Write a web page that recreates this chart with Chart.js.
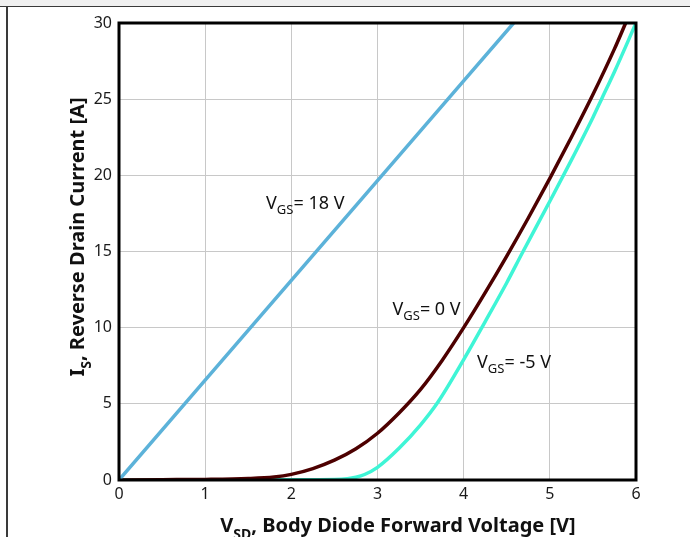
<!DOCTYPE html>
<html>
<head>
<meta charset="utf-8">
<script src="https://cdn.jsdelivr.net/npm/chart.js@4.4.1/dist/chart.umd.min.js"></script>
<style>
  html, body { margin: 0; padding: 0; background: #ffffff; }
  #wrap { position: relative; width: 690px; height: 537px; overflow: hidden; background: #ffffff; }
  #topband { position: absolute; left: 0; top: 0; width: 690px; height: 6px; background: #f0f0f0; border-bottom: 1.5px solid #3a3a3a; }
  #leftline { position: absolute; left: 6px; top: 6px; width: 1.5px; height: 531px; background: #3a3a3a; }
  canvas { position: absolute; left: 0; top: 0; }
</style>
</head>
<body>
<div id="wrap">
  <div id="topband"></div>
  <div id="leftline"></div>
  <canvas id="c" width="690" height="537"></canvas>
</div>
<script>
// ---- Data ----
const vsd18 = [0, 1, 2, 3, 4, 4.58];
const is18  = [0, 6.55, 13.1, 19.65, 26.2, 30];

const vsd0 = [0, 0.5, 1, 1.5, 1.8, 2, 2.25, 2.5, 2.75, 3, 3.25, 3.5, 3.75, 4, 4.25, 4.5, 4.75, 5, 5.25, 5.5, 5.75, 5.88];
const is0  = [0, 0.02, 0.04, 0.1, 0.2, 0.37, 0.75, 1.3, 2.05, 3.07, 4.4, 5.95, 7.85, 10.0, 12.3, 14.7, 17.2, 19.8, 22.5, 25.3, 28.3, 30];

const vsdM5 = [0, 1, 2, 2.5, 2.65, 2.75, 2.85, 3, 3.25, 3.5, 3.7, 4, 4.25, 4.5, 4.68, 5, 5.25, 5.5, 5.6, 5.75, 6];
const isM5  = [0, 0, 0.01, 0.03, 0.08, 0.18, 0.36, 0.83, 2.08, 3.62, 5.1, 7.9, 10.4, 12.95, 14.9, 18.3, 21.0, 23.8, 25, 26.8, 30];

const xTicks = [0, 1, 2, 3, 4, 5, 6];
const yTicks = [0, 5, 10, 15, 20, 25, 30];

const seriesNames = ['18 V', '0 V', '-5 V'];

const toPts = (xs, ys) => xs.map((x, i) => ({ x: x, y: ys[i] }));

// curve labels anchored in data units
const curveLabels = [
  { v: 1.706, i: 17.79, rest: '= 18 V' },
  { v: 3.174, i: 10.83, rest: '= 0 V' },
  { v: 4.155, i: 7.35,  rest: '= -5 V' }
];

const FONT = '"Noto Sans", "Open Sans", sans-serif';

const framePlugin = {
  id: 'frame',
  afterDraw(chart) {
    const { ctx, chartArea: a, scales } = chart;
    ctx.save();
    ctx.strokeStyle = '#000';
    ctx.lineWidth = 3;
    ctx.strokeRect(a.left, a.top, a.right - a.left, a.bottom - a.top);

    ctx.fillStyle = '#111';
    ctx.textBaseline = 'alphabetic';
    ctx.textAlign = 'left';
    curveLabels.forEach(l => {
      let x = scales.x.getPixelForValue(l.v);
      const y = scales.y.getPixelForValue(l.i);
      ctx.font = '18px ' + FONT;
      ctx.fillText('V', x, y);
      x += ctx.measureText('V').width;
      ctx.font = '13px ' + FONT;
      ctx.fillText('GS', x, y + 5);
      x += ctx.measureText('GS').width;
      ctx.font = '18px ' + FONT;
      ctx.fillText(l.rest, x, y);
    });

    // x axis title
    const xt1 = 'V', xs = 'SD', xt2 = ', Body Diode Forward Voltage [V]';
    ctx.font = 'bold 20px ' + FONT;
    const w1 = ctx.measureText(xt1).width;
    const w3 = ctx.measureText(xt2).width;
    ctx.font = 'bold 14px ' + FONT;
    const w2 = ctx.measureText(xs).width;
    let tx = 398 - (w1 + w2 + w3) / 2;
    const ty = 532;
    ctx.font = 'bold 20px ' + FONT;
    ctx.fillText(xt1, tx, ty); tx += w1;
    ctx.font = 'bold 14px ' + FONT;
    ctx.fillText(xs, tx, ty + 7); tx += w2;
    ctx.font = 'bold 20px ' + FONT;
    ctx.fillText(xt2, tx, ty);

    // y axis title (rotated)
    const yt1 = 'I', ys = 'S', yt2 = ', Reverse Drain Current [A]';
    ctx.translate(84, 0);
    ctx.rotate(-Math.PI / 2);
    ctx.font = 'bold 20px ' + FONT;
    const v1 = ctx.measureText(yt1).width;
    const v3 = ctx.measureText(yt2).width;
    ctx.font = 'bold 14px ' + FONT;
    const v2 = ctx.measureText(ys).width;
    let p = -(237 + (v1 + v2 + v3) / 2);
    ctx.font = 'bold 20px ' + FONT;
    ctx.fillText(yt1, p, 0); p += v1;
    ctx.font = 'bold 14px ' + FONT;
    ctx.fillText(ys, p, 7); p += v2;
    ctx.font = 'bold 20px ' + FONT;
    ctx.fillText(yt2, p, 0);
    ctx.restore();
  }
};

new Chart(document.getElementById('c'), {
  type: 'line',
  data: {
    datasets: [
      { label: seriesNames[0], data: toPts(vsd18, is18), borderColor: '#5cb2d9', borderWidth: 3.5, pointRadius: 0, tension: 0 },
      { label: seriesNames[1], data: toPts(vsd0, is0), borderColor: '#4d0000', borderWidth: 3.5, pointRadius: 0, cubicInterpolationMode: 'monotone' },
      { label: seriesNames[2], data: toPts(vsdM5, isM5), borderColor: '#3ff5d6', borderWidth: 3.5, pointRadius: 0, cubicInterpolationMode: 'monotone' }
    ]
  },
  options: {
    responsive: false,
    animation: false,
    events: [],
    layout: { padding: { left: 0, top: 23, right: 54, bottom: 0 } },
    plugins: { legend: { display: false }, tooltip: { enabled: false }, title: { display: false } },
    scales: {
      x: {
        type: 'linear', min: 0, max: 6,
        afterFit(s) { s.height = 57; },
        afterBuildTicks(s) { s.ticks = xTicks.map(v => ({ value: v })); },
        grid: { color: '#c8c8c8', lineWidth: 1, drawTicks: false },
        border: { display: false },
        ticks: { color: '#1a1a1a', font: { family: FONT, size: 16 }, padding: 5, maxRotation: 0 }
      },
      y: {
        type: 'linear', min: 0, max: 30,
        afterFit(s) { s.width = 119; },
        afterBuildTicks(s) { s.ticks = yTicks.map(v => ({ value: v })); },
        grid: { color: '#c8c8c8', lineWidth: 1, drawTicks: false },
        border: { display: false },
        ticks: { color: '#1a1a1a', font: { family: FONT, size: 16 }, padding: 7 }
      }
    }
  },
  plugins: [framePlugin]
});
</script>
</body>
</html>
